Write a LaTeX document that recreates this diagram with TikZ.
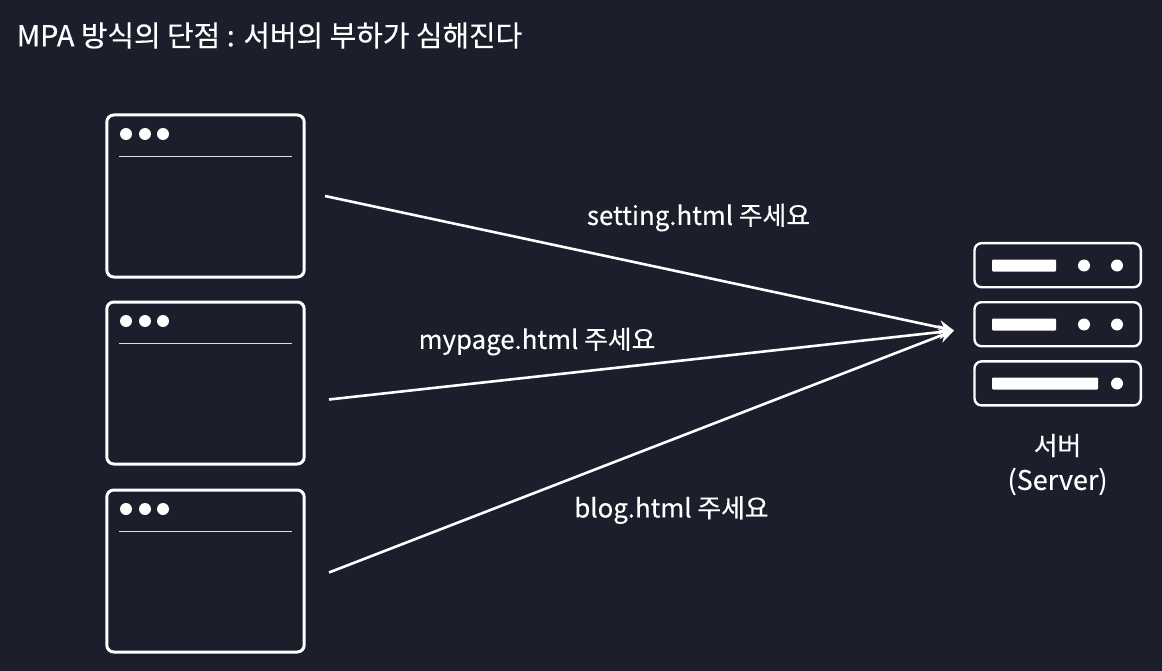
\documentclass[tikz,border=0pt]{standalone}
\usepackage{fontspec}
\setmainfont[FakeBold=0.3]{Noto Sans CJK KR}
\usetikzlibrary{arrows.meta}
\definecolor{bgc}{HTML}{1C1E2B}
\tikzset{
  winbox/.style={draw=white,line width=3pt,rounded corners=7pt,minimum width=197.4pt,minimum height=162pt,inner sep=0pt,anchor=north west},
  srvbox/.style={draw=white,line width=2.4pt,rounded corners=7pt,minimum width=166.3pt,minimum height=44pt,inner sep=0pt,anchor=north west},
  dot/.style={circle,fill=white,inner sep=0pt,minimum size=12pt},
  bar/.style={fill=white,rounded corners=1pt,inner sep=0pt,minimum height=12pt,anchor=west},
  sep/.style={draw=white!85!bgc,line width=1.2pt},
  conn/.style={draw=white,line width=2.6pt,-{Stealth[length=15pt,width=14pt]}},
  lab/.style={text=white,font=\fontsize{25.8}{30}\selectfont,inner sep=0pt},
}
\begin{document}
\begin{tikzpicture}[x=1pt,y=-1pt]
\path[use as bounding box,fill=bgc] (0,0) rectangle (1162,671);
\node[text=white,anchor=west,inner sep=0pt,font=\fontsize{28.9}{33}\selectfont] (title) at (16.5,35.5) {MPA 방식의 단점 : 서버의 부하가 심해진다};
% browser windows
\foreach \n/\y in {w1/113.5,w2/300.5,w3/488.5}{
  \node[winbox] (\n) at (105.3,\y) {};
  \node[dot] (\n d1) at (126,\y+20.5) {};
  \node[dot] (\n d2) at (145,\y+20.5) {};
  \node[dot] (\n d3) at (163,\y+20.5) {};
  \coordinate (\n sa) at (119,\y+43);
  \coordinate (\n sb) at (292,\y+43);
  \draw[sep] (\n sa) -- (\n sb);
}
% servers
\node[srvbox] (s1) at (973.3,242) {};
\node[srvbox] (s2) at (973.3,301) {};
\node[srvbox] (s3) at (973.3,360.2) {};
\foreach \n/\y in {s1/265.5,s2/324.5}{
  \node[bar,minimum width=64pt] (\n b) at (992,\y) {};
  \node[dot] (\n d1) at (1084,\y) {};
  \node[dot] (\n d2) at (1117,\y) {};
}
\node[bar,minimum width=106pt] (s3b) at (992,383.5) {};
\node[dot] (s3d) at (1117,383.5) {};
\coordinate (c1) at (325,196);
\coordinate (c2) at (329,399.5);
\coordinate (c3) at (329,572.5);
\coordinate (tip) at (954,330.5);
\draw[conn] (c1) -- (tip);
\draw[conn] (c2) -- (tip);
\draw[conn] (c3) -- (tip);
\node[lab] (l1) at (698.5,217.5) {setting.html 주세요};
\node[lab] (l2) at (537,341.5) {mypage.html 주세요};
\node[lab] (l3) at (671.5,510) {blog.html 주세요};
\node[lab] (sv1) at (1057.5,445.5) {서버};
\node[lab,font=\fontsize{27}{30}\selectfont] (sv2) at (1057.5,481.5) {(Server)};
\end{tikzpicture}
\end{document}
